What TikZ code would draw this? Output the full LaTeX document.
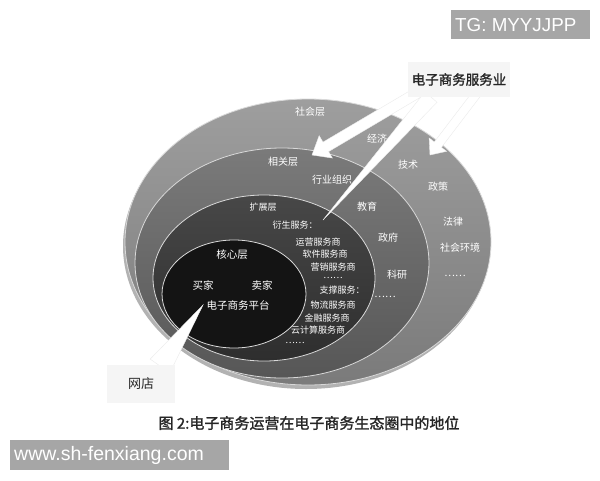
\documentclass[tikz,border=0pt]{standalone}
\usepackage{fontspec}
\setmainfont{Noto Sans CJK SC}[AutoFakeBold=1.5]
\newfontfamily\wmfont{Liberation Sans}
\usetikzlibrary{calc}
\def\blockarrow(#1)(#2)(#3:#4:#5){\coordinate (bh) at ($(#2)!#5!(#1)$);
	\filldraw[arrowfill] ($(#1)!#3!90:(#2)$) -- ($(bh)!#3!90:(#2)$) -- ($(bh)!#4!90:(#2)$) -- (#2) -- ($(bh)!#4!-90:(#2)$) -- ($(bh)!#3!-90:(#2)$) -- ($(#1)!#3!-90:(#2)$) -- cycle;}
\def\spike(#1)(#2)(#3){\filldraw[arrowfill] ($(#1)!#3!90:(#2)$) -- (#2) -- ($(#1)!#3!-90:(#2)$) -- cycle;}

\begin{document}
\begin{tikzpicture}[x=1pt,y=-1pt,
	ring/.style={draw=white!85!black, line width=0.8pt},
	lbl/.style={text=white, inner sep=0pt, font=\fontsize{10}{12}\selectfont},
	sublbl/.style={text=white, inner sep=0pt, font=\fontsize{9}{11}\selectfont},
	arrowfill/.style={fill=white, draw=black!8, line width=0.4pt},
	notebox/.style={fill=black!4, inner sep=0pt, text=black!85},
	wmbox/.style={fill=black!35, inner sep=0pt, text=white, font=\wmfont}]
		%%%%% START %%%%%
		\useasboundingbox[fill=white] (0,0) rectangle (600,480);
		
		\fill[black!30] (306,246) ellipse [x radius=183pt, y radius=143pt];
		\draw[ring, top color=black!38, bottom color=black!52] (308,242) ellipse [x radius=183pt, y radius=143pt];
		\draw[ring, top color=black!52, bottom color=black!66] (282,263) ellipse [x radius=147pt, y radius=115pt];
		\draw[ring, top color=black!72, bottom color=black!82] (264,278) ellipse [x radius=111pt, y radius=83pt];
		\draw[ring, fill=black!92] (234,294) ellipse [x radius=72pt, y radius=54pt];
		
		% social layer
		\node[lbl] (social) at (310,112) {社会层};
		\node[lbl] (econ) at (377,139) {经济};
		\node[lbl] (tech) at (408,165) {技术};
		\node[lbl] (policy) at (438,187) {政策};
		\node[lbl] (law) at (453,222) {法律};
		\node[lbl] (env) at (460,248) {社会环境};
		\node[lbl] (socdots) at (455,276) {……};
		
		% related layer
		\node[lbl] (related) at (283,162) {相关层};
		\node[lbl] (assoc) at (332,180) {行业组织};
		\node[lbl] (edu) at (367,207) {教育};
		\node[lbl] (gov) at (388,238) {政府};
		\node[lbl] (research) at (397,275) {科研};
		\node[lbl] (reldots) at (385,297) {……};
		
		% extended layer
		\node[sublbl] (ext) at (263,207) {扩展层};
		\node[sublbl] (derive) at (295,225) {衍生服务：};
		\node[sublbl] (ops) at (318,242) {运营服务商};
		\node[sublbl] (soft) at (325,254) {软件服务商};
		\node[sublbl] (mkt) at (333,267) {营销服务商};
		\node[sublbl] (d1) at (333,278) {……};
		\node[sublbl] (support) at (342,290) {支撑服务：};
		\node[sublbl] (logi) at (333,305) {物流服务商};
		\node[sublbl] (fin) at (327,318) {金融服务商};
		\node[sublbl] (cloud) at (318,330) {云计算服务商};
		\node[sublbl] (d2) at (295,343) {……};
		
		% core layer
		\node[lbl, font=\fontsize{10.5}{12}\selectfont] (core) at (232,255) {核心层};
		\node[lbl, font=\fontsize{10.5}{12}\selectfont] (buyer) at (203,285) {买家};
		\node[lbl, font=\fontsize{10.5}{12}\selectfont] (seller) at (262,285) {卖家};
		\node[lbl, font=\fontsize{10.5}{12}\selectfont] (platform) at (238,305) {电子商务平台};
		
		% arrows
		\coordinate (a1s) at (422,90);
		\coordinate (a1t) at (312,155);
		\coordinate (a2s) at (478,92);
		\coordinate (a2t) at (430,155);
		\coordinate (a3s) at (431,97);
		\coordinate (a3t) at (323,220);
		\coordinate (a4s) at (160,366);
		\coordinate (a4t) at (203,305);
		\blockarrow(a1s)(a1t)(5.5pt:13pt:16pt)
		\blockarrow(a2s)(a2t)(4.5pt:11pt:13pt)
		\spike(a3s)(a3t)(8pt)
		\spike(a4s)(a4t)(12pt)
		
		\node[notebox, minimum width=102pt, minimum height=35pt, font=\bfseries\fontsize{13.5}{15}\selectfont] (svc) at (459,79.5) {电子商务服务业};
		\node[notebox, minimum width=68pt, minimum height=38pt, font=\fontsize{13}{15}\selectfont] (shop) at (141,384) {网店};
		
		\node[text=black!85, font=\bfseries\fontsize{15}{17}\selectfont] (caption) at (309,423) {图 2:电子商务运营在电子商务生态圈中的地位};
		
		% watermarks
		\fill[black!35] (451,10) rectangle (590,39);
		\node[wmbox, anchor=west, font=\wmfont\fontsize{18.8}{20}\selectfont] (tg) at (455,25) {TG: MYYJJPP};
		\fill[black!35] (10,440) rectangle (229,470);
		\node[wmbox, anchor=west, font=\wmfont\fontsize{19.5}{21}\selectfont] (www) at (14,455) {www.sh-fenxiang.com};
		%%%%% END %%%%%
	\end{tikzpicture}
\end{document}
